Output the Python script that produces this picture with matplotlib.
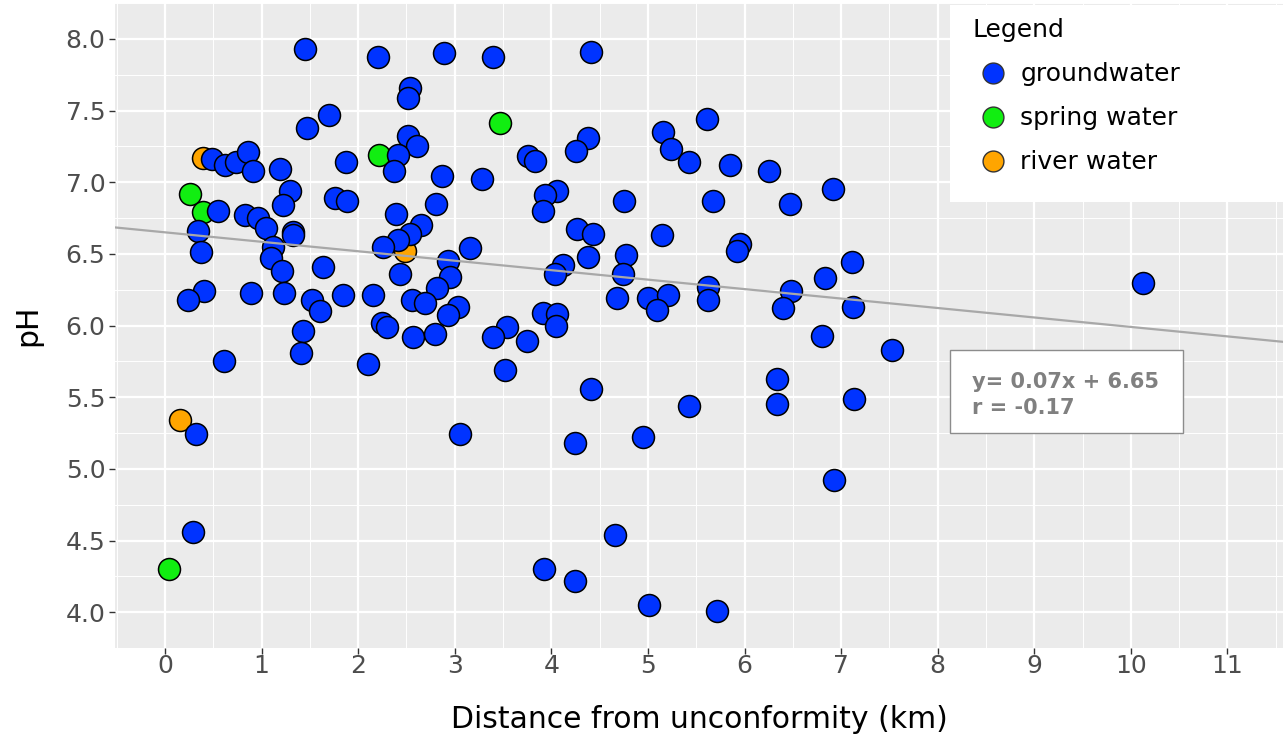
import matplotlib.pyplot as plt
from matplotlib.lines import Line2D
from matplotlib.patches import Rectangle

plt.rcParams['font.family'] = ['DejaVu Sans']

# groundwater samples: distance (km), pH
gw_x = [1.45, 2.21, 2.89, 3.40, 4.41, 2.54, 2.52, 1.70, 1.47,
        2.52, 2.61, 2.41, 2.37, 4.38, 4.25, 3.76, 3.83,
        5.16, 5.24, 5.42, 5.61, 5.85, 6.25, 6.92, 6.47, 5.67,
        0.49, 0.62, 0.73, 0.86, 0.91, 1.19, 1.87,
        1.29, 1.22, 1.76, 1.88,
        0.55, 0.83, 0.96, 1.05, 0.34, 0.37,
        1.32, 1.33, 1.12, 1.10, 1.21, 1.64,
        0.40, 0.24, 0.89, 1.23, 1.52, 1.60, 1.84,
        1.43, 1.41, 0.61, 0.32, 0.29,
        2.87, 3.28, 2.81, 2.39, 2.65, 2.54, 2.41, 2.26,
        3.16, 2.93, 2.95, 2.43, 2.15, 2.82, 2.56, 2.69, 3.03, 2.93,
        2.25, 2.30, 2.57, 2.80, 3.54, 3.40, 3.75, 2.10, 3.52, 3.05,
        4.06, 3.93, 3.91, 4.75,
        4.27, 4.43, 5.15, 4.38, 4.77, 4.12, 4.04, 4.74,
        4.68, 5.00, 5.21, 5.09, 5.62, 5.62,
        3.91, 4.06, 4.05,
        4.41, 5.42, 4.24, 4.95, 4.66, 3.92, 4.24, 5.01, 5.71,
        5.95, 5.92, 7.11, 6.83, 6.48, 6.40, 7.12, 6.80, 7.53,
        6.34, 6.34, 7.13, 6.93, 10.13]
gw_y = [7.93, 7.87, 7.90, 7.87, 7.91, 7.66, 7.59, 7.47, 7.38,
        7.32, 7.25, 7.19, 7.08, 7.31, 7.22, 7.18, 7.15,
        7.35, 7.23, 7.14, 7.44, 7.12, 7.08, 6.95, 6.85, 6.87,
        7.16, 7.12, 7.14, 7.21, 7.08, 7.09, 7.14,
        6.94, 6.84, 6.89, 6.87,
        6.80, 6.77, 6.75, 6.68, 6.66, 6.51,
        6.65, 6.63, 6.55, 6.47, 6.38, 6.41,
        6.24, 6.18, 6.23, 6.23, 6.18, 6.10, 6.21,
        5.96, 5.81, 5.75, 5.24, 4.56,
        7.04, 7.02, 6.85, 6.78, 6.70, 6.64, 6.60, 6.55,
        6.54, 6.45, 6.34, 6.36, 6.21, 6.26, 6.18, 6.16, 6.13, 6.07,
        6.02, 5.99, 5.92, 5.94, 5.99, 5.92, 5.89, 5.73, 5.69, 5.24,
        6.94, 6.91, 6.80, 6.87,
        6.67, 6.64, 6.63, 6.48, 6.49, 6.42, 6.36, 6.36,
        6.19, 6.19, 6.21, 6.11, 6.27, 6.18,
        6.09, 6.08, 6.00,
        5.56, 5.44, 5.18, 5.22, 4.54, 4.30, 4.22, 4.05, 4.01,
        6.57, 6.52, 6.44, 6.33, 6.24, 6.12, 6.13, 5.93, 5.83,
        5.63, 5.45, 5.49, 4.92, 6.30]

spring_x = [0.26, 0.39, 2.22, 3.47, 0.04]
spring_y = [6.92, 6.79, 7.19, 7.41, 4.30]

river_x = [0.39, 0.15, 2.48]
river_y = [7.17, 5.34, 6.52]

# linear fit and correlation
slope = -0.066
intercept = 6.65
r_value = -0.17

col_gw = '#0033FF'
col_spring = '#11EE11'
col_river = '#FFA500'

W, H = 1283, 742
fig = plt.figure(figsize=(W / 100, H / 100), dpi=100)
ax = fig.add_axes([115 / W, 1 - 648 / H, 1 - 115 / W, 645 / H])
ax.set_facecolor('#EBEBEB')

xmin, xmax = -0.518, 11.575
ax.set_xlim(xmin, xmax)
ax.set_ylim(3.85, 8.23)

ax.set_xticks(range(12))
ax.set_xticks([i + 0.5 for i in range(-1, 12)], minor=True)
yt = [4.0 + 0.5 * i for i in range(9)]
ax.set_yticks(yt)
ax.set_yticklabels([f'{v:.1f}' for v in yt])
ax.set_yticks([v + 0.25 for v in [3.5] + yt], minor=True)
ax.grid(which='major', color='white', lw=1.6)
ax.grid(which='minor', color='white', lw=0.7)
ax.set_axisbelow(True)
for s in ax.spines.values():
    s.set_visible(False)
ax.tick_params(which='major', length=4, width=1, color='#333333',
               labelcolor='#4D4D4D', labelsize=18, pad=3)
ax.tick_params(axis='x', which='major', pad=0)
ax.tick_params(which='minor', length=0)

kw = dict(s=250, edgecolors='black', linewidths=1.1, zorder=3)
ax.scatter(spring_x, spring_y, c=col_spring, **kw)
ax.scatter(river_x, river_y, c=col_river, **kw)
ax.scatter(gw_x, gw_y, c=col_gw, **kw)

ax.plot([xmin, xmax], [intercept + slope * xmin, intercept + slope * xmax],
        color='#A8A8A8', lw=1.6, zorder=4)

ax.set_xlabel('Distance from unconformity (km)', fontsize=21.5, labelpad=20)
ax.set_ylabel('pH', fontsize=21.5, labelpad=17)

# legend panel
fig.patches.append(Rectangle((950 / W, 1 - 202 / H), 333 / W, 197 / H,
                             transform=fig.transFigure, facecolor='white',
                             edgecolor='none', zorder=5))
handles = [Line2D([], [], ls='none', marker='o', ms=15, mfc=c, mec='#333333', mew=1)
           for c in (col_gw, col_spring, col_river)]
leg = fig.legend(handles, ['groundwater', 'spring water', 'river water'],
                 title='Legend', loc='upper left',
                 bbox_to_anchor=(950 / W, 1 + 4 / H), frameon=False,
                 fontsize=18, title_fontsize=18, handletextpad=0.32,
                 labelspacing=0.8, handlelength=1.6, alignment='left')
leg.set_zorder(6)

# fit annotation
fig.patches.append(Rectangle((950 / W, 1 - 433 / H), 233 / W, 83 / H,
                             transform=fig.transFigure, facecolor='white',
                             edgecolor='#8C8C8C', lw=1, zorder=5))
fig.text(972 / W, 1 - 395 / H,
         f'y= {abs(slope):.2f}x + {intercept:.2f}\nr = {r_value:.2f}',
         color='#808080', fontsize=15, fontweight='bold', va='center',
         linespacing=1.32, zorder=6)

fig.savefig('out.png', dpi=100)
